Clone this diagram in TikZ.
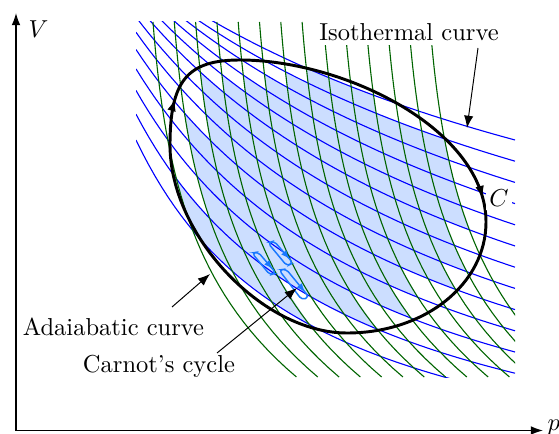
\documentclass[tikz,border=0pt]{standalone}
\usetikzlibrary{arrows.meta,decorations.markings}

\definecolor{isoblue}{RGB}{0,0,255}
\definecolor{adiagreen}{RGB}{0,100,0}
\definecolor{cellfill}{RGB}{204,222,255}
\definecolor{carnotblue}{RGB}{25,120,255}

\tikzset{
  axis/.style={line width=0.55pt,-{Latex[length=5pt,width=3.6pt]}},
  leader/.style={line width=0.4pt,-{Latex[length=5pt,width=3.8pt]}},
  isotherm/.style={isoblue,line width=0.45pt},
  adiabat/.style={adiagreen,line width=0.45pt},
  tag/.style={fill=white,inner sep=1.5pt},
  loopC/.style={line width=1.2pt,postaction={decorate},
    decoration={markings,
      mark=at position 0.566 with {\arrow{Latex[length=5pt,width=3.6pt]}},
      mark=at position 0.974 with {\arrow{Latex[length=5pt,width=3.6pt]}}}},
  carnot/.style={carnotblue,line width=0.6pt,rounded corners=1.5pt,postaction={decorate},
    decoration={markings,mark=at position 0.4 with {\arrow{Latex[length=3.5pt,width=2.8pt]}}}},
}

% isotherm j: y = Oy - 100 K/(x-Ox), through (136,L) and (515,R)
\newcommand\isoset[1]{%
  \pgfmathsetmacro\isoOx{-42-34*#1}%
  \pgfmathsetmacro\isoL{140-26.9*#1+1.07*#1*#1}%
  \pgfmathsetmacro\isoR{394.4-21.2*#1}%
  \pgfmathsetmacro\isoK{(\isoR-\isoL)/379*((136-\isoOx)/10)*((515-\isoOx)/10)}%
  \pgfmathsetmacro\isoOy{\isoR+\isoK/((515-\isoOx)/100)}%
}
% adiabat i: x as a function of y
\newcommand\adiax[2]{(153+21.3*(#1)+10*(exp(((#2)-22)/130)-1))}
% one step towards the crossing of adiabat \i and the current isotherm
\newcommand\meetstep{%
  \pgfmathsetmacro\mx{\adiax{\i}{\my}}%
  \pgfmathsetmacro\my{\isoOy-\isoK/((\mx-\isoOx)/100)}%
}
% radius of C around (325,200), every 15 degrees
\newcommand\Crad{{158.9,164.6,162.7,155.2,146.2,137.7,130.9,124.5,121.2,121.5,124.5,134.8,
  145.8,160.1,176.9,181.5,161.9,140.5,125.3,116.9,117.6,122.0,133.7,148.4,158.9}}
\newcommand\insideC{%
  \pgfmathsetmacro\phiC{atan2(\my-200,\mx-325)}%
  \pgfmathsetmacro\phiC{\phiC<0 ? \phiC+360 : \phiC}%
  \pgfmathtruncatemacro\kC{\phiC/15}%
  \pgfmathtruncatemacro\kD{\kC+1}%
  \pgfmathsetmacro\ra{\Crad[\kC]}%
  \pgfmathsetmacro\rb{\Crad[\kD]}%
  \pgfmathsetmacro\rC{\ra+(\rb-\ra)*(\phiC-15*\kC)/15}%
  \pgfmathsetmacro\dC{100*veclen((\mx-325)/100,(\my-200)/100)}%
  \pgfmathtruncatemacro\inC{\dC<\rC ? 1 : 0}%
}

\begin{document}
\begin{tikzpicture}[x=0.408pt,y=-0.408pt]
\useasboundingbox (0,0) rectangle (559,434);

% grid crossings
\foreach \i in {0,...,13}{
  \foreach \j in {0,...,12}{
    \isoset{\j}
    \pgfmathsetmacro\my{\isoOy-\isoK/((153+21.3*\i-\isoOx)/100)}
    \meetstep\meetstep\meetstep\meetstep\meetstep
    \meetstep\meetstep\meetstep\meetstep\meetstep
    \insideC
    \coordinate (m-\i-\j) at (\mx,\my);
    \expandafter\xdef\csname in\i-\j\endcsname{\inC}
  }
}

\begin{scope}
\clip (136,22) rectangle (515,377);
% cells inside C
\foreach \i in {0,...,12}{
  \foreach \j in {0,...,11}{
    \pgfmathtruncatemacro\inext{\i+1}
    \pgfmathtruncatemacro\jnext{\j+1}
    \ifnum\numexpr\csname in\i-\j\endcsname*\csname in\inext-\j\endcsname
      *\csname in\inext-\jnext\endcsname*\csname in\i-\jnext\endcsname\relax=1
      \fill[cellfill] (m-\i-\j) -- (m-\inext-\j) -- (m-\inext-\jnext) -- (m-\i-\jnext) -- cycle;
    \fi
  }
}
% isothermal curves
\foreach \j in {0,...,12}{
  \isoset{\j}
  \draw[isotherm] plot[domain=136:515,samples=60] (\x,{\isoOy-\isoK/((\x-\isoOx)/100)});
}
% adiabatic curves
\foreach \i in {0,...,13}
  \draw[adiabat] plot[domain=22:377,samples=40] ({\adiax{\i}{\x}},\x);
\end{scope}

% the cycle C
\draw[loopC] (486,222) .. controls (486,284) and (425,333) .. (347,333)
  .. controls (262,333) and (170,235) .. (170,145)
  .. controls (170,81) and (187,60) .. (240,60)
  .. controls (345,60) and (486,130) .. cycle;
\node[tag] (clabel) at (499,198) {$C$};

% small Carnot cycles
\draw[carnot] (268,243) -- (274,241) -- (293,263) -- (287,266) -- cycle;
\draw[carnot] (252,253) -- (258,252) -- (276,273) -- (270,275) -- cycle;
\draw[carnot] (279,270) -- (286,269) -- (309,297) -- (302,300) -- cycle;

% axes
\coordinate (O) at (16,430.5);
\coordinate (pmax) at (543,430.5);
\coordinate (Vmax) at (16,13);
\draw[axis] (O) -- (pmax);
\draw[axis] (O) -- (Vmax);
\node[anchor=base west,inner sep=0pt] (plabel) at (547,430.5) {$p$};
\node (Vlabel) at (38.5,29) {$V$};

% labels
\node[tag] (isolabel) at (409,32.5) {Isothermal curve};
\coordinate (isofrom) at (478,48);
\coordinate (isotip) at (467,128);
\draw[leader] (isofrom) -- (isotip);

\node (adialabel) at (113.5,326.5) {Adaiabatic curve};
\coordinate (adiafrom) at (172,307);
\coordinate (adiatip) at (210,274);
\draw[leader] (adiafrom) -- (adiatip);

\node (carnotlabel) at (159,366) {Carnot's cycle};
\coordinate (carnotfrom) at (217,353);
\coordinate (carnottip) at (297,288);
\draw[leader] (carnotfrom) -- (carnottip);
\end{tikzpicture}
\end{document}
